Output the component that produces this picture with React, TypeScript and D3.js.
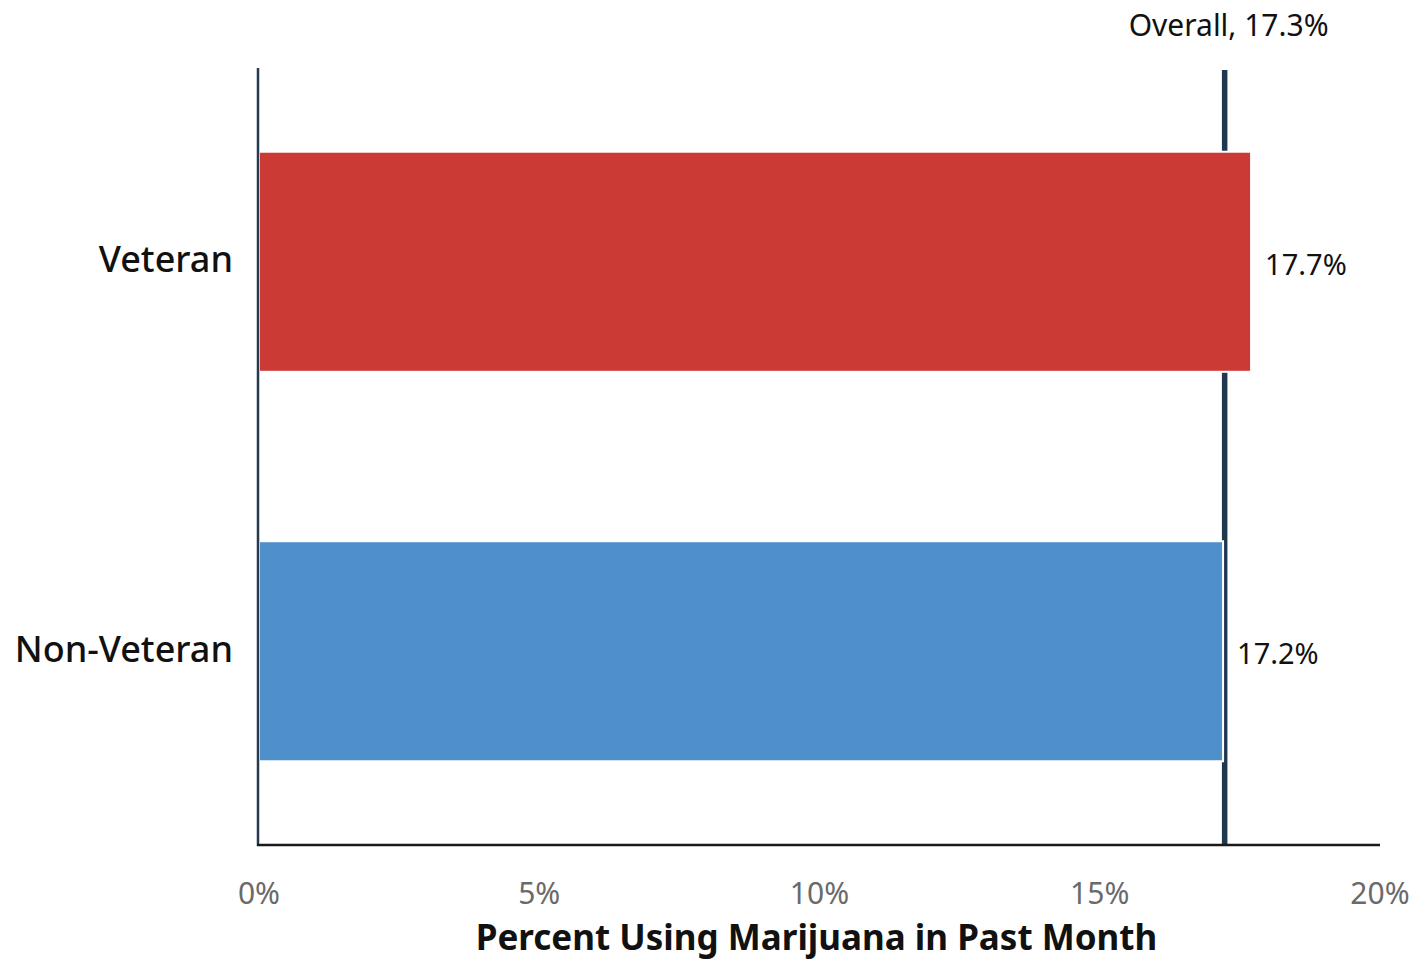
import React from "react";
import * as d3 from "d3";

const categories = ["Veteran", "Non-Veteran"];
const values = [17.7, 17.2];
const barColors = ["#cc3a36", "#4f90cb"];
const overall = 17.3;
const overallLabel = "Overall, 17.3%";
const ticks = [0, 5, 10, 15, 20];
const xTitle = "Percent Using Marijuana in Past Month";

const W = 1413;
const H = 959;
const left = 259;
const right = 1380;
const top = 68;
const bottom = 845;
const font = "'Noto Sans', 'Open Sans', sans-serif";

export default function App() {
  const x = d3.scaleLinear().domain([0, 20]).range([left, right]);
  const y = d3
    .scaleBand<string>()
    .domain(categories)
    .range([top, bottom])
    .paddingInner(0.435)
    .paddingOuter(0.215);

  return (
    <svg
      width={W}
      height={H}
      style={{ position: "absolute", left: 0, top: 0, background: "#fff" }}
      fontFamily={font}
    >
      {/* overall reference line */}
      <line
        x1={x(overall) - 4}
        x2={x(overall) - 4}
        y1={70}
        y2={bottom}
        stroke="#1f3850"
        strokeWidth={5.5}
      />
      <text
        x={x(overall) + 100}
        y={36}
        textAnchor="end"
        fontSize={30}
        fill="#111"
      >
        {overallLabel}
      </text>

      {categories.map((c, i) => (
        <g key={c}>
          <rect
            x={x(0)}
            y={y(c)!}
            width={x(values[i]) - x(0)}
            height={y.bandwidth()}
            fill={barColors[i]}
            stroke="#fff"
            strokeWidth={2}
          />
          <text
            x={x(values[i]) + 14}
            y={y(c)! + y.bandwidth() / 2 + 5}
            dominantBaseline="middle"
            fontSize={29}
            fill="#111"
          >
            {values[i].toFixed(1)}%
          </text>
          <text
            x={left - 26}
            y={y(c)! + y.bandwidth() / 2 + 1}
            dominantBaseline="middle"
            textAnchor="end"
            fontSize={36}
            fontWeight={500}
            fill="#111"
          >
            {c}
          </text>
        </g>
      ))}

      {/* axes */}
      <line x1={left - 1} x2={left - 1} y1={top} y2={bottom + 1} stroke="#253a50" strokeWidth={2.5} />
      <line x1={left - 2} x2={right} y1={bottom} y2={bottom} stroke="#1a1a1a" strokeWidth={2.5} />

      {ticks.map((t) => (
        <text
          key={t}
          x={x(t)}
          y={904}
          textAnchor="middle"
          fontSize={30}
          fill="#6a6a6a"
        >
          {t}%
        </text>
      ))}
      <text
        x={(x(0) + x(20)) / 2 - 3}
        y={950}
        textAnchor="middle"
        fontSize={35}
        fontWeight="bold"
        fill="#111"
      >
        {xTitle}
      </text>
    </svg>
  );
}
